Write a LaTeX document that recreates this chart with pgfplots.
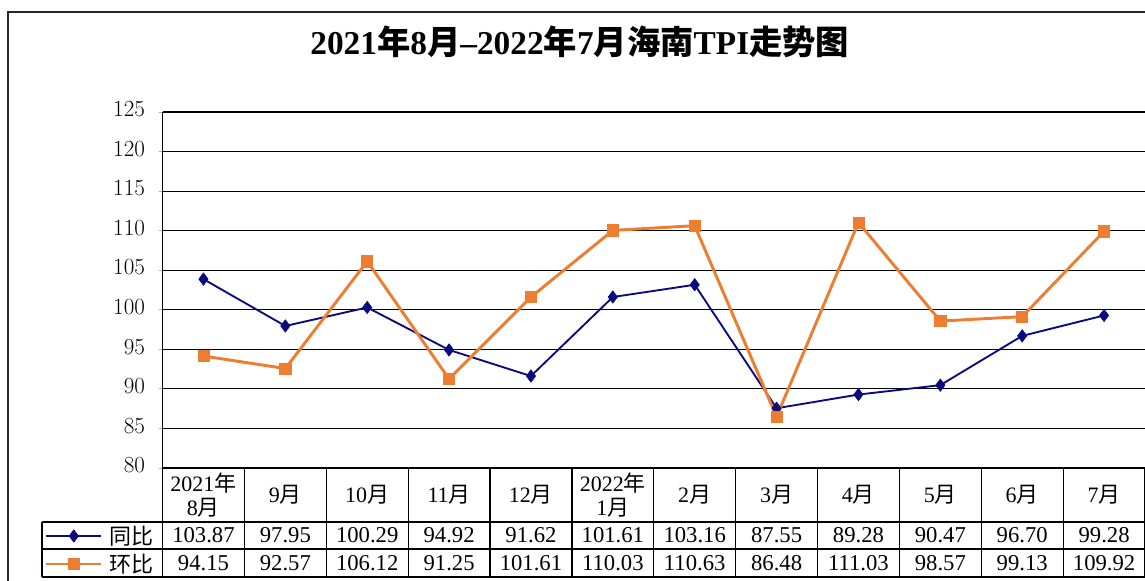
\documentclass[border=0pt]{standalone}
\usepackage{fontspec}
\setmainfont{Liberation Serif}
\newfontfamily\cjk{Noto Sans CJK SC}
\usepackage{pgfplots}
\usepackage{pgfplotstable}
\pgfplotsset{compat=1.18}
\definecolor{navyc}{RGB}{10,10,128}
\definecolor{orangec}{RGB}{237,125,49}
\newcommand{\Y}{{\cjk 年}}
\newcommand{\M}{{\cjk 月}}
\pgfplotstableread{
k tb hb
0 103.87 94.15
1 97.95 92.57
2 100.29 106.12
3 94.92 91.25
4 91.62 101.61
5 101.61 110.03
6 103.16 110.63
7 87.55 86.48
8 89.28 111.03
9 90.47 98.57
10 96.70 99.13
11 99.28 109.92
}\datatab
\begin{document}
\begin{tikzpicture}
\begin{axis}[
  at={(0,0)}, anchor=south west,
  scale only axis, width=736.9pt, height=267pt,
  xmin=-0.5, xmax=11.5, ymin=80, ymax=125,
  xtick=\empty, ytick={80,85,...,125},
  ymajorgrids, grid style={black, line width=0.8pt},
  axis line style={draw=none},
  tick align=outside, ytick pos=left, major tick length=3pt,
  tick style={gray!60, line width=0.6pt},
  yticklabel style={font=\fontsize{16.5}{16.5}\selectfont, inner sep=0pt, xshift=-10pt, yshift=2pt},
  legend image code/.code={\draw[mark repeat=2,mark phase=2,#1] plot coordinates {(0pt,0pt) (20.5pt,0pt) (41pt,0pt)};},
  legend cell align=left,
  legend style={at={(axis description cs:-0.1196,-0.1517)}, anchor=north west, draw=none, fill=none,
    inner sep=0pt, outer sep=0pt, row sep=0pt, column sep=5pt,
    nodes={inner sep=0pt, minimum height=21pt, anchor=west, font=\fontsize{16.5}{16.5}\selectfont}},
]
\addplot[navyc, line width=1.4pt, mark=diamond*, mark size=4.6pt, mark options={solid, line width=0.5pt}] table[x=k,y=tb]{\datatab};
\addplot[orangec, line width=2.2pt, mark=square*, mark size=4.2pt, mark options={solid, line width=0.5pt}] table[x=k,y=hb]{\datatab};
\legend{{\cjk 同比},{\cjk 环比}}
\end{axis}
% table grid
\begin{scope}[line width=0.9pt]
\draw (0,267pt) -- (0,-81.75pt);
\foreach \k in {1,...,12} \draw ({\k*61.41pt},0) -- ({\k*61.41pt},-81.75pt);
\draw (-90.4pt,-40.5pt) -- (745pt,-40.5pt);
\draw (-90.4pt,-60.75pt) -- (745pt,-60.75pt);
\draw (-90.4pt,-81.75pt) -- (745pt,-81.75pt);
\draw (-90.4pt,-40.5pt) -- (-90.4pt,-81.75pt);
\end{scope}
% header labels
\begin{scope}[every node/.style={font=\fontsize{16.5}{18}\selectfont, align=center}]
\node at ({0.5*61.41pt},-20.25pt) {2021\Y\\8\M};
\node at ({1.5*61.41pt},-20.25pt) {9\M};
\node at ({2.5*61.41pt},-20.25pt) {10\M};
\node at ({3.5*61.41pt},-20.25pt) {11\M};
\node at ({4.5*61.41pt},-20.25pt) {12\M};
\node at ({5.5*61.41pt},-20.25pt) {2022\Y\\1\M};
\node at ({6.5*61.41pt},-20.25pt) {2\M};
\node at ({7.5*61.41pt},-20.25pt) {3\M};
\node at ({8.5*61.41pt},-20.25pt) {4\M};
\node at ({9.5*61.41pt},-20.25pt) {5\M};
\node at ({10.5*61.41pt},-20.25pt) {6\M};
\node at ({11.5*61.41pt},-20.25pt) {7\M};
\end{scope}
\begin{scope}[every node/.style={font=\fontsize{17}{17}\selectfont}]
\foreach \v [count=\i from 0] in {103.87,97.95,100.29,94.92,91.62,101.61,103.16,87.55,89.28,90.47,96.70,99.28}
  \node at ({(\i+0.5)*61.41pt},-50.6pt) {\v};
\foreach \v [count=\i from 0] in {94.15,92.57,106.12,91.25,101.61,110.03,110.63,86.48,111.03,98.57,99.13,109.92}
  \node at ({(\i+0.5)*61.41pt},-71.6pt) {\v};
\end{scope}
% title
\node[font=\fontsize{25}{25}\selectfont\bfseries] at (313pt,319.5pt) {2021\Y8\M\textendash2022\Y7\M{\cjk 海南}TPI{\cjk 走势图}};
% outer frame
\draw[line width=1pt, black!85] (-115.9pt,-100pt) -- (-115.9pt,342pt) -- (760pt,342pt);
\pgfresetboundingbox
\useasboundingbox (-121.9pt,-84.75pt) rectangle (736.9pt,351pt);
\end{tikzpicture}
\end{document}
